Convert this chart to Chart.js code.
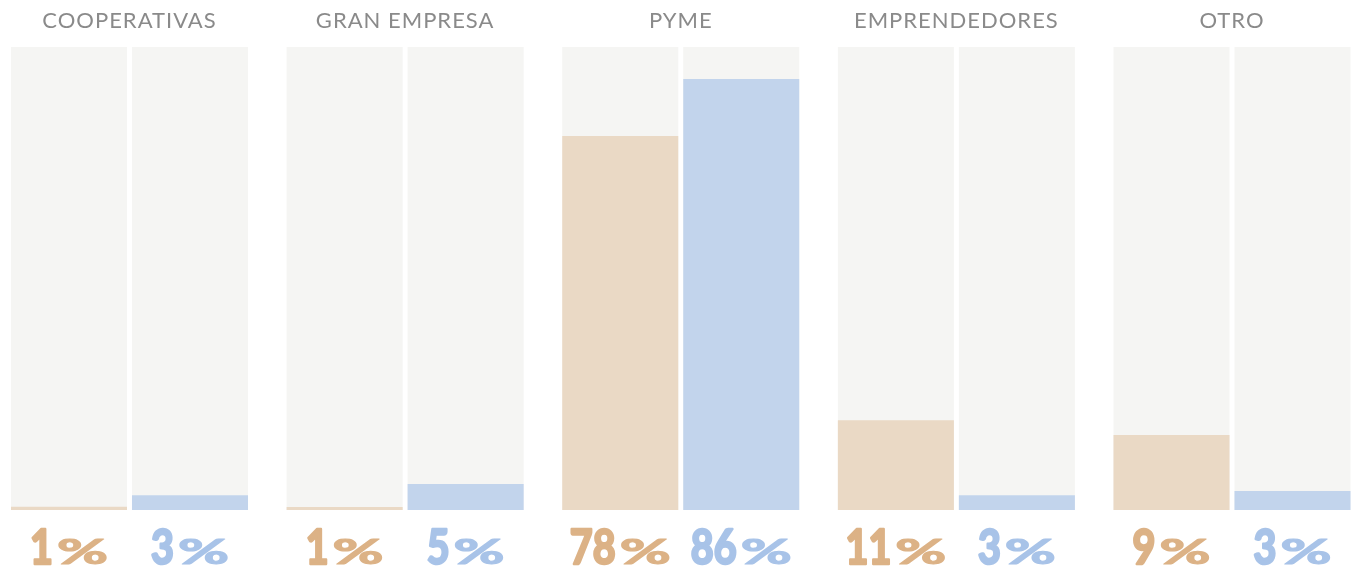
<!DOCTYPE html>
<html lang="es">

<head>
    <meta charset="UTF-8">
    <title>Tipo de empresa</title>
    <script src="https://cdn.jsdelivr.net/npm/chart.js@4.4.0/dist/chart.umd.min.js"></script>
    <style>
        html, body { margin: 0; padding: 0; background: #fff; }
        #wrap { width: 1355px; height: 571px; }
    </style>
</head>

<body>
    <div id="wrap"><canvas id="chart" width="1355" height="571"></canvas></div>

    <script>
        // categories and values
        const categories = ['COOPERATIVAS', 'GRAN EMPRESA', 'PYME', 'EMPRENDEDORES', 'OTRO'];
        const tanLabels = ['1', '1', '78', '11', '9'];
        const blueLabels = ['3', '5', '86', '3', '3'];
        // bar heights as drawn, on a 0-100 axis that fills the grey columns
        const tanHeights = [0.7, 0.65, 80.8, 19.4, 16.2];
        const blueHeights = [3.2, 5.6, 93.1, 3.2, 4.1];
        const fullColumn = [100, 100, 100, 100, 100];

        const TAN_TEXT = '#dcb286';
        const BLUE_TEXT = '#a8c3e8';
        const NUM_FONT = 'bold 47px Lato';
        const PCT_FONT = 'bold 35px Lato';

        // filled + stroked so the glyphs come out as heavy as the original
        function heavyText(ctx, txt, sx, lw) {
            ctx.scale(sx, 1);
            ctx.lineWidth = lw;
            ctx.lineJoin = 'round';
            ctx.fillText(txt, 0, 0);
            ctx.strokeText(txt, 0, 0);
        }

        // number in heavy narrow digits, followed by a wide, short % sign
        function drawPercent(ctx, num, cx, baseline, color) {
            ctx.fillStyle = color;
            ctx.strokeStyle = color;
            const numScale = 0.84;
            ctx.font = NUM_FONT;
            const numW = ctx.measureText(num).width * numScale;
            ctx.font = PCT_FONT;
            const pctW0 = ctx.measureText('%').width;
            const pctW = 51;
            const gap = 4;
            const left = cx - (numW + gap + pctW) / 2;

            ctx.save();
            ctx.translate(left, baseline - 1);
            ctx.font = NUM_FONT;
            heavyText(ctx, num, numScale, 2.6);
            ctx.restore();

            ctx.save();
            ctx.translate(left + numW + gap, baseline - 1);
            ctx.font = PCT_FONT;
            heavyText(ctx, '%', pctW / pctW0, 1.2);
            ctx.restore();
        }

        const labelsPlugin = {
            id: 'groupLabels',
            afterDatasetsDraw(chart) {
                const ctx = chart.ctx;
                ctx.save();

                // category names on top of each pair
                ctx.textAlign = 'center';
                ctx.font = '400 22px Lato';
                ctx.fillStyle = '#8a8a8a';
                ctx.letterSpacing = '1px';
                ctx.textBaseline = 'middle';
                const x = chart.scales.x;
                categories.forEach((c, i) => {
                    ctx.fillText(c, x.getPixelForValue(i), 21);
                });

                // big percentages under the bars
                ctx.letterSpacing = '0px';
                ctx.textAlign = 'left';
                ctx.textBaseline = 'alphabetic';
                chart.getDatasetMeta(2).data.forEach((bar, i) => {
                    drawPercent(ctx, tanLabels[i], bar.x, 565, TAN_TEXT);
                });
                chart.getDatasetMeta(3).data.forEach((bar, i) => {
                    drawPercent(ctx, blueLabels[i], bar.x, 565, BLUE_TEXT);
                });
                ctx.restore();
            }
        };

        new Chart(document.getElementById('chart'), {
            type: 'bar',
            data: {
                labels: categories,
                datasets: [
                    { data: fullColumn, stack: 'tan', backgroundColor: '#f5f5f3', order: 2 },
                    { data: fullColumn, stack: 'blue', backgroundColor: '#f5f5f3', order: 2 },
                    { data: tanHeights, stack: 'tan', backgroundColor: '#ead9c5', order: 1 },
                    { data: blueHeights, stack: 'blue', backgroundColor: '#c2d4ec', order: 1 }
                ],
            },
            options: {
                responsive: false,
                animation: false,
                events: [],
                layout: { padding: { left: 129.5, right: 123, top: 47, bottom: 61 } },
                datasets: {
                    bar: {
                        categoryPercentage: 0.878,
                        barPercentage: 0.959,
                        clip: false,
                        borderWidth: 0
                    }
                },
                scales: {
                    x: { display: false, stacked: true, offset: false },
                    y: { display: false, stacked: false, min: 0, max: 100 }
                },
                plugins: {
                    legend: { display: false },
                    tooltip: { enabled: false }
                }
            },
            plugins: [labelsPlugin]
        });
    </script>
</body>

</html>
